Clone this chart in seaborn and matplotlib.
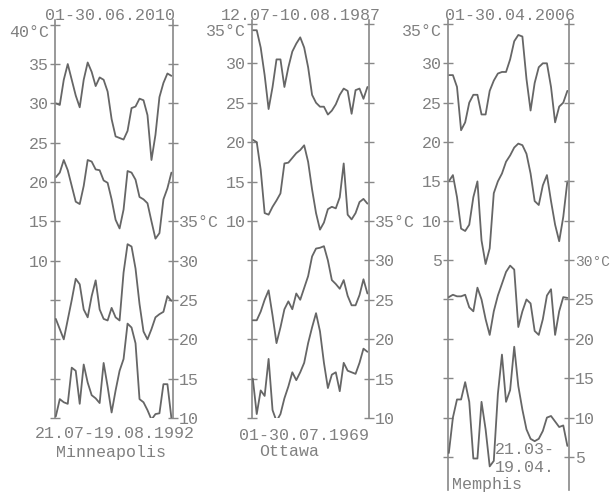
import numpy as np
import pandas as pd
import matplotlib
matplotlib.use("Agg")
import matplotlib.pyplot as plt
import seaborn as sns

# days of each 30-day window
days = list(range(1, 31))

# Minneapolis, 01-30.06.2010 (left axis)
minn_max_2010 = [30.0, 29.8, 33.0, 35.0, 33.0, 31.0, 29.5, 33.0, 35.2, 34.0,
                 32.2, 33.3, 33.0, 31.5, 28.0, 25.8, 25.6, 25.4, 26.5, 29.4,
                 29.6, 30.6, 30.4, 28.5, 22.8, 26.0, 30.8, 32.6, 33.8, 33.5]
minn_min_2010 = [20.6, 21.2, 22.8, 21.5, 19.5, 17.5, 17.2, 19.5, 22.8, 22.6,
                 21.6, 21.5, 20.2, 19.9, 17.8, 15.2, 14.1, 16.5, 21.4, 21.2,
                 20.3, 18.1, 17.8, 17.3, 15.0, 12.8, 13.5, 17.8, 19.2, 21.2]
# Minneapolis, 21.07-19.08.1992 (right axis)
minn_max_1992 = [22.6, 21.3, 20.0, 22.5, 25.0, 27.7, 27.0, 23.8, 22.8, 25.5,
                 27.5, 23.8, 22.6, 22.4, 24.0, 22.8, 22.4, 28.5, 32.1, 31.8,
                 29.0, 24.5, 21.0, 20.0, 21.3, 22.8, 23.2, 23.5, 25.5, 24.9]
minn_min_1992 = [10.2, 12.4, 12.0, 11.8, 16.4, 16.0, 11.8, 16.8, 14.5, 12.9,
                 12.5, 11.9, 17.0, 14.0, 10.7, 13.5, 16.0, 17.5, 22.0, 21.5,
                 19.5, 12.4, 12.0, 11.0, 9.8, 10.5, 10.6, 14.3, 14.3, 10.0]

# Ottawa, 12.07-10.08.1987 (left axis)
otta_max_1987 = [34.2, 34.2, 32.0, 28.5, 24.2, 27.0, 30.5, 30.5, 27.0, 29.5,
                 31.5, 32.5, 33.3, 32.0, 29.5, 26.0, 25.0, 24.5, 24.5, 23.5,
                 24.0, 24.8, 26.0, 26.8, 26.5, 23.6, 26.6, 26.8, 25.5, 27.0]
otta_min_1987 = [20.3, 20.0, 16.5, 11.0, 10.8, 11.8, 12.6, 13.5, 17.3, 17.4,
                 18.0, 18.6, 19.0, 19.6, 17.5, 14.0, 11.0, 8.9, 9.8, 11.5,
                 11.8, 11.6, 13.0, 17.3, 10.8, 10.2, 11.0, 12.4, 12.8, 12.2]
# Ottawa, 01-30.07.1969 (right axis)
otta_max_1969 = [22.4, 22.4, 23.5, 25.0, 26.2, 23.0, 19.5, 21.5, 23.8, 24.8,
                 23.8, 25.8, 25.0, 26.5, 28.0, 30.5, 31.5, 31.6, 31.8, 30.0,
                 27.5, 27.0, 26.4, 27.5, 25.5, 24.3, 24.3, 25.6, 27.6, 25.8]
otta_min_1969 = [15.0, 10.5, 13.5, 12.8, 17.5, 11.0, 9.6, 10.5, 12.5, 14.0,
                 15.8, 14.8, 15.8, 17.0, 19.5, 21.5, 23.3, 21.0, 17.0, 13.8,
                 15.5, 15.8, 13.4, 17.0, 16.0, 15.8, 15.6, 17.0, 18.8, 18.4]

# Memphis, 01-30.04.2006 (left axis)
memp_max_2006 = [28.5, 28.5, 27.0, 21.5, 22.5, 25.0, 26.0, 26.0, 23.5, 23.5,
                 26.5, 27.8, 28.7, 28.9, 28.9, 30.5, 32.8, 33.6, 33.4, 28.0,
                 24.0, 27.5, 29.5, 30.0, 30.0, 27.0, 22.5, 24.5, 25.0, 26.5]
memp_min_2006 = [15.0, 15.8, 13.0, 9.0, 8.7, 9.5, 13.0, 15.0, 7.5, 4.5,
                 6.5, 13.5, 15.0, 16.0, 17.5, 18.3, 19.3, 19.8, 19.6, 18.5,
                 16.0, 12.5, 12.0, 14.5, 15.8, 12.5, 9.5, 7.4, 10.5, 15.0]
# Memphis, 21.03-19.04 (right axis)
memp_max_b = [25.3, 25.6, 25.4, 25.4, 25.6, 24.0, 23.5, 26.5, 25.0, 22.5,
              20.5, 23.5, 25.5, 27.0, 28.5, 29.3, 28.8, 21.5, 23.5, 25.0,
              24.5, 21.0, 20.5, 22.5, 25.5, 26.3, 20.5, 23.5, 25.3, 25.2]
memp_min_b = [5.5, 10.0, 12.3, 12.3, 14.5, 12.0, 4.8, 4.8, 12.0, 8.5,
              3.8, 4.5, 13.0, 18.0, 12.0, 13.5, 19.0, 14.0, 11.0, 8.5,
              7.3, 7.0, 7.3, 8.3, 10.0, 10.2, 9.5, 8.8, 9.0, 6.4]

sns.set_style("white")
plt.rcParams['font.family'] = ['Liberation Mono', 'DejaVu Sans Mono']

W, H = 612, 497
text_col = '#808080'
line_col = '#666666'
spine_col = '#888888'
fs = 12

fig = plt.figure(figsize=(W / 100, H / 100), dpi=100)


def px_rect(x0, x1, y0, y1):
    return [x0 / W, 1 - y1 / H, (x1 - x0) / W, (y1 - y0) / H]


def fig_text(x, y, s, ha='center'):
    fig.text(x / W, 1 - y / H, s, ha=ha, va='center', fontsize=fs, color=text_col)


def panel(rect, left_series, right_series, ylim, offset, left_lab, right_lab):
    ax = fig.add_axes(rect)
    ax2 = ax.twinx()
    for s in left_series:
        sns.lineplot(x=days, y=s, ax=ax, color=line_col, lw=1.3)
    for s in right_series:
        sns.lineplot(x=days, y=s, ax=ax2, color=line_col, lw=1.3)
    ax.set_xlim(0.8, 30.4)
    ax.set_ylim(*ylim)
    ax2.set_ylim(ylim[0] + offset, ylim[1] + offset)
    ax.set_xticks([])

    lt = np.arange(np.ceil(ylim[0] / 5) * 5, ylim[1] + 0.01, 5)
    ax.set_yticks(lt)
    ax.set_yticklabels([(f"{int(v)}°C" if v == max(left_lab) else str(int(v)))
                        if v in left_lab else '' for v in lt])
    rt = np.arange(np.ceil((ylim[0] + offset) / 5) * 5, ylim[1] + offset + 0.01, 5)
    ax2.set_yticks(rt)
    ax2.set_yticklabels([(f"{int(v)}°C" if v == max(right_lab) else str(int(v)))
                         if v in right_lab else '' for v in rt])

    for a in (ax, ax2):
        a.set_xlabel('')
        a.set_ylabel('')
        a.spines['top'].set_visible(False)
        a.spines['bottom'].set_visible(False)
        a.tick_params(axis='y', direction='inout', length=7, width=1,
                      colors=spine_col, labelcolor=text_col, labelsize=fs, pad=1)
        a.patch.set_alpha(0)
    ax.spines['right'].set_visible(False)
    ax2.spines['left'].set_visible(False)
    ax.spines['left'].set_color(spine_col)
    ax2.spines['right'].set_color(spine_col)
    ax.spines['left'].set_linewidth(1.2)
    ax2.spines['right'].set_linewidth(1.2)
    # the top label sits just under its tick
    for lab in ax.get_yticklabels():
        if '°' in lab.get_text():
            lab.set_va('top')
    return ax, ax2


# Minneapolis
panel(px_rect(55, 173, 20, 418), [minn_max_2010, minn_min_2010],
      [minn_max_1992, minn_min_1992], (-10, 40.6), 20,
      [10, 15, 20, 25, 30, 35, 40], [10, 15, 20, 25, 30, 35])
fig_text(110, 16, "01-30.06.2010")
fig_text(115, 434, "21.07-19.08.1992")
fig_text(111, 452, "Minneapolis")

# Ottawa
panel(px_rect(252, 369, 20, 418), [otta_max_1987, otta_min_1987],
      [otta_max_1969, otta_min_1969], (-15, 35.5), 25,
      [10, 15, 20, 25, 30, 35], [10, 15, 20, 25, 30, 35])
fig_text(301, 16, "12.07-10.08.1987")
fig_text(304, 435, "01-30.07.1969")
fig_text(289, 452, "Ottawa")

# Memphis
ax_m, ax_m2 = panel(px_rect(448, 569, 20, 490), [memp_max_2006, memp_min_2006],
                    [memp_max_b, memp_min_b], (-24.2, 35.5), 25,
                    [5, 10, 15, 20, 25, 30, 35], [5, 10, 15, 20, 25, 30])
# the 30°C label sits at the picture's right edge: keep it a bit smaller
for lab in ax_m2.get_yticklabels():
    if '°' in lab.get_text():
        lab.set_fontsize(10.5)
fig_text(510, 16, "01-30.04.2006")
fig_text(495, 450, "21.03-", ha='left')
fig_text(495, 467, "19.04.", ha='left')
fig_text(452, 485, "Memphis", ha='left')

fig.savefig("out.png", dpi=100)
